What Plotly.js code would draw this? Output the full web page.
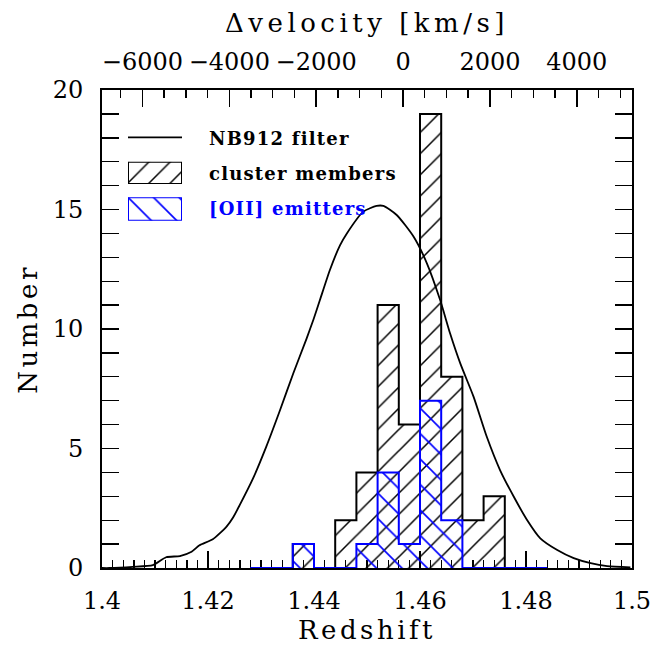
<!DOCTYPE html>
<html>
<head>
<meta charset="utf-8">
<script src="https://cdn.plot.ly/plotly-3.0.1.min.js"></script>
<style>
  html, body { margin: 0; padding: 0; background: #fff; }
  #chart { width: 666px; height: 645px; }
  .xtitle, .ytitle { letter-spacing: 3.5px; }
  .x2title { letter-spacing: 4.5px; }
  .annotation-text { letter-spacing: 1.2px; }
</style>
</head>
<body>
<div id="chart"></div>
<script>
// ---- data ----
// histogram bins (left edges, width 0.004 in redshift)
const binLeft = [1.428, 1.432, 1.436, 1.440, 1.444, 1.448, 1.452, 1.456, 1.460, 1.464, 1.468, 1.472, 1.476, 1.480];
const binWidth = 0.004;
const clusterCounts = [0, 0, 1, 0, 2, 4, 11, 6, 19, 8, 2, 3, 0, 0];
const oiiCounts     = [0, 0, 1, 0, 0, 1, 4, 1, 7, 2, 0, 0, 0, 0];

// NB912 filter response, scaled to the Number axis
const filterZ = [1.4000, 1.4014, 1.4058, 1.4096, 1.4121, 1.4147, 1.4169, 1.4184, 1.4209, 1.4235, 1.4247, 1.4260, 1.4285,
  1.4310, 1.4336, 1.4361, 1.4386, 1.4399, 1.4411, 1.4430, 1.4449, 1.4462, 1.4493, 1.4518, 1.4531, 1.4556, 1.4588,
  1.4613, 1.4638, 1.4657, 1.4676, 1.4701, 1.4726, 1.4751, 1.4777, 1.4802, 1.4827, 1.4859, 1.4890, 1.4922, 1.4953, 1.4997];
const filterN = [0.0, 0.0, 0.05, 0.12, 0.45, 0.5, 0.68, 0.95, 1.2, 1.73, 2.1, 2.64, 3.75,
  5.08, 6.61, 8.15, 9.6, 10.4, 11.2, 12.47, 13.5, 14.0, 14.91, 15.15, 15.15, 14.77, 13.86,
  12.75, 11.21, 9.8, 8.56, 7.17, 5.49, 4.1, 2.98, 2.01, 1.24, 0.75, 0.41, 0.2, 0.08, 0.03];

const legendLabels = ["NB912 filter", "cluster members", "[OII] emitters"];
const xTitle = "Redshift";
const yTitle = "Number";
const x2Title = "\u0394velocity [km/s]";

// cluster reference redshift for the velocity axis
const Z_CLUSTER = 1.4568;
const C_KMS = 299792.458;
const zRange = [1.4, 1.5];
function zToV(z) { return C_KMS * (z - Z_CLUSTER) / (1 + Z_CLUSTER); }

// ---- derived ----
const binCenter = binLeft.map(x => x + binWidth / 2);
function stepOutline(counts, first, last) {
  const xs = [binLeft[first], binLeft[first]];
  const ys = [0, counts[first]];
  for (let i = first + 1; i <= last; i++) { xs.push(binLeft[i]); ys.push(counts[i]); }
  xs.push(binLeft[last] + binWidth); ys.push(0);
  return {xs, ys};
}
function firstNonZero(c) { return c.findIndex(v => v > 0); }
function lastNonZero(c) { for (let i = c.length - 1; i >= 0; i--) if (c[i] > 0) return i; return -1; }

const blackStep = stepOutline(clusterCounts, firstNonZero(clusterCounts), lastNonZero(clusterCounts));
const blueStep = stepOutline(oiiCounts, 0, oiiCounts.length - 1);

const BLUE = '#0000ff';
const hatchBlack = {shape: '/', fgcolor: '#000', bgcolor: 'rgba(0,0,0,0)', fgopacity: 1, size: 15, solidity: 0.1, fillmode: 'overlay'};
const hatchBlue = {shape: '\\', fgcolor: BLUE, bgcolor: 'rgba(0,0,0,0)', fgopacity: 1, size: 18, solidity: 0.09, fillmode: 'overlay'};

const traces = [
  {type: 'scatter', mode: 'lines', x: filterZ, y: filterN, line: {color: '#000', width: 1.8, shape: 'spline', smoothing: 0.6},
   hoverinfo: 'skip', showlegend: false},
  {type: 'bar', x: binCenter, y: clusterCounts, width: binWidth,
   marker: {color: 'rgba(0,0,0,0)', pattern: hatchBlack, line: {width: 0}}, hoverinfo: 'skip', showlegend: false},
  {type: 'scatter', mode: 'lines', x: blackStep.xs, y: blackStep.ys, line: {color: '#000', width: 2, shape: 'hv'},
   hoverinfo: 'skip', showlegend: false, cliponaxis: false},
  {type: 'bar', x: binCenter, y: oiiCounts, width: binWidth,
   marker: {color: 'rgba(0,0,0,0)', pattern: hatchBlue, line: {width: 0}}, hoverinfo: 'skip', showlegend: false},
  {type: 'scatter', mode: 'lines', x: blueStep.xs, y: blueStep.ys, line: {color: BLUE, width: 2, shape: 'hv'},
   hoverinfo: 'skip', showlegend: false, cliponaxis: false},
  // carrier for the velocity axis
  {type: 'scatter', mode: 'lines', x: [zToV(zRange[0]), zToV(zRange[1])], y: [null, null], xaxis: 'x2',
   hoverinfo: 'skip', showlegend: false},
  // legend swatches
  {type: 'bar', x: [0.5], y: [1], width: [1], xaxis: 'x3', yaxis: 'y3', cliponaxis: false,
   marker: {color: 'rgba(0,0,0,0)', pattern: hatchBlack, line: {width: 2, color: '#000'}}, hoverinfo: 'skip', showlegend: false},
  {type: 'bar', x: [0.5], y: [1], width: [1], xaxis: 'x4', yaxis: 'y4', cliponaxis: false,
   marker: {color: 'rgba(0,0,0,0)', pattern: hatchBlue, line: {width: 2, color: BLUE}}, hoverinfo: 'skip', showlegend: false}
];

const FONT = 'DejaVu Serif, Liberation Serif, serif';
const W = 530, H = 478, L = 102, T = 90;
const px = x => (x - L) / W;
const py = y => (T + H - y) / H;

const axisCommon = {
  showgrid: false, zeroline: false, showline: true, linecolor: '#000', linewidth: 2,
  ticks: 'inside', ticklen: 17, tickwidth: 1.6, tickcolor: '#000',
  tickfont: {family: FONT, size: 24, color: '#000'}
};

const layout = {
  width: 666, height: 645,
  margin: {l: L, r: 666 - L - W, t: T, b: 645 - T - H},
  paper_bgcolor: '#fff', plot_bgcolor: '#fff',
  barmode: 'overlay', bargap: 0,
  showlegend: false,
  xaxis: Object.assign({}, axisCommon, {
    range: zRange, tick0: 1.4, dtick: 0.02, mirror: false, layer: 'below traces',
    minor: {tick0: 1.4, dtick: 0.002, ticks: 'inside', ticklen: 8, tickwidth: 1.4, tickcolor: '#000'},
    ticklabelstandoff: 10,
    title: {text: xTitle, font: {family: FONT, size: 26, color: '#000'}, standoff: 8}
  }),
  xaxis2: Object.assign({}, axisCommon, {
    overlaying: 'x', side: 'top', anchor: 'y',
    range: [zToV(zRange[0]), zToV(zRange[1])], tick0: 0, dtick: 2000, mirror: false,
    minor: {tick0: 0, dtick: 500, ticks: 'inside', ticklen: 8, tickwidth: 1.4, tickcolor: '#000'},
    ticklabelstandoff: 8,
    title: {text: x2Title, font: {family: FONT, size: 26, color: '#000'}, standoff: 8}
  }),
  yaxis: Object.assign({}, axisCommon, {
    range: [0, 20], tick0: 0, dtick: 5, mirror: 'allticks', layer: 'below traces',
    minor: {tick0: 0, dtick: 1, ticks: 'inside', ticklen: 8, tickwidth: 1.4, tickcolor: '#000'},
    ticklabelstandoff: 12,
    title: {text: yTitle, font: {family: FONT, size: 26, color: '#000'}, standoff: 8}
  }),
  xaxis3: {domain: [px(128), px(182)], anchor: 'y3', range: [0, 1], visible: false, fixedrange: true},
  yaxis3: {domain: [py(184), py(161.7)], anchor: 'x3', range: [0, 1], visible: false, fixedrange: true},
  xaxis4: {domain: [px(128), px(182)], anchor: 'y4', range: [0, 1], visible: false, fixedrange: true},
  yaxis4: {domain: [py(220.7), py(197.3)], anchor: 'x4', range: [0, 1], visible: false, fixedrange: true},
  shapes: [
    {type: 'line', xref: 'paper', yref: 'paper', x0: px(128), x1: px(182), y0: py(137.3), y1: py(137.3),
     line: {color: '#000', width: 1.8}}
  ],
  annotations: [
    {xref: 'paper', yref: 'paper', x: px(207), y: py(138), xanchor: 'left', yanchor: 'middle', showarrow: false,
     text: legendLabels[0], font: {family: FONT, size: 18, color: '#000', weight: 'bold'}},
    {xref: 'paper', yref: 'paper', x: px(207), y: py(173), xanchor: 'left', yanchor: 'middle', showarrow: false,
     text: legendLabels[1], font: {family: FONT, size: 18, color: '#000', weight: 'bold'}},
    {xref: 'paper', yref: 'paper', x: px(207), y: py(208), xanchor: 'left', yanchor: 'middle', showarrow: false,
     text: legendLabels[2], font: {family: FONT, size: 18, color: BLUE, weight: 'bold'}}
  ]
};

Plotly.newPlot('chart', traces, layout, {staticPlot: true, displayModeBar: false});
</script>
</body>
</html>
